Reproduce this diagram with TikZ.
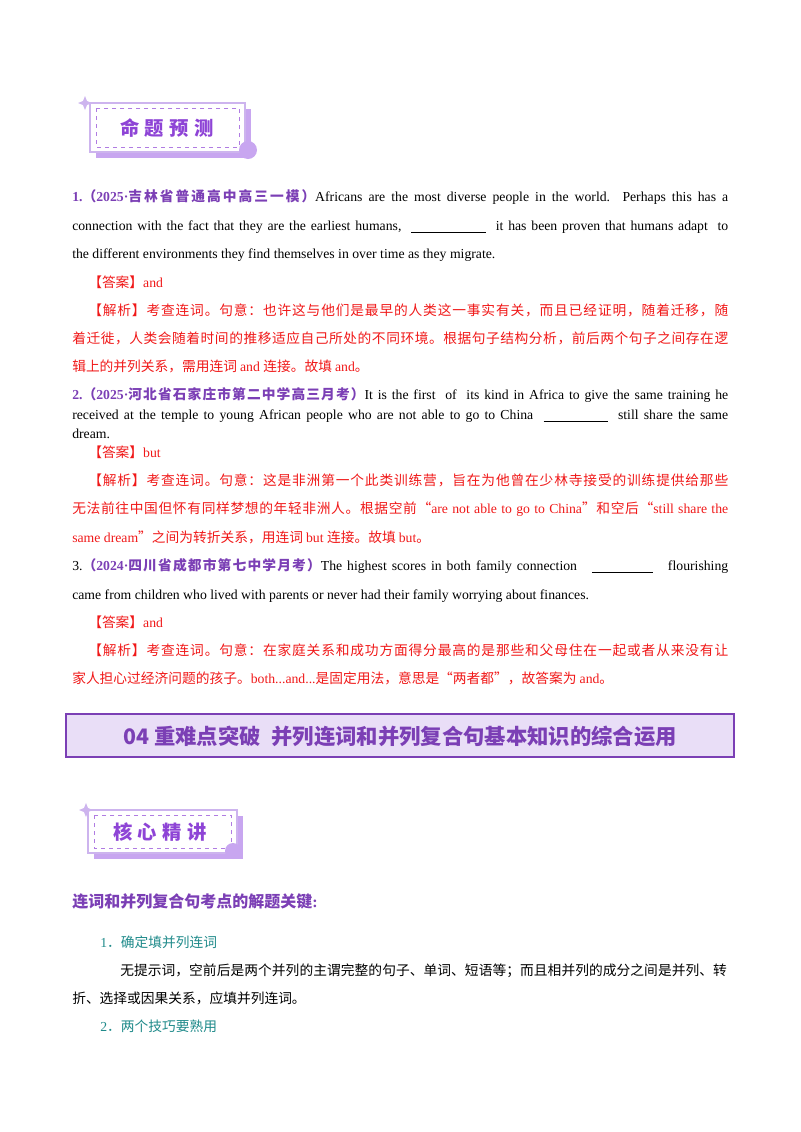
\documentclass[tikz,border=0pt]{standalone}
\usepackage{fontspec}
\setmainfont{Liberation Serif}
\newfontfamily\cjkfam{Noto Sans CJK SC}
\newcommand\cjkf{\cjkfam}
\newcommand\latf{\rmfamily}
\newcommand\cjkglue{\hskip0pt plus 1pt\relax}
\newXeTeXintercharclass\mycjk
\newcount\ccnt
\ccnt="4E00 \loop \XeTeXcharclass\ccnt=\mycjk \advance\ccnt 1 \ifnum\ccnt<"A000 \repeat
\ccnt="3000 \loop \XeTeXcharclass\ccnt=\mycjk \advance\ccnt 1 \ifnum\ccnt<"3040 \repeat
\ccnt="FF00 \loop \XeTeXcharclass\ccnt=\mycjk \advance\ccnt 1 \ifnum\ccnt<"FFF0 \repeat
\XeTeXcharclass"201C=\mycjk
\XeTeXcharclass"201D=\mycjk
\XeTeXinterchartokenstate=1
\XeTeXinterchartoks 0 \mycjk = {\cjkf}
\XeTeXinterchartoks 4095 \mycjk = {\cjkf}
\XeTeXinterchartoks \mycjk 0 = {\latf}
\XeTeXinterchartoks 4095 0 = {\latf}
\XeTeXinterchartoks \mycjk \mycjk = {\cjkglue}
\definecolor{ttl}{HTML}{7B3FB5}
\definecolor{ans}{HTML}{F01818}
\definecolor{teal2}{HTML}{1F8A8A}
\definecolor{band}{HTML}{E9DEF7}
\definecolor{bdg}{HTML}{8E44D6}
\definecolor{bdgl}{HTML}{CDB4EE}
\definecolor{bdgs}{HTML}{C8A6F0}
\newcommand\J[2]{\makebox[#1][s]{#2}}
\newcommand\blank[1]{\rule[-2pt]{#1}{0.6pt}}
\begin{document}
\begin{tikzpicture}[x=0.75pt,y=-0.75pt,
  ln/.style={anchor=base west,inner sep=0pt,font=\fontsize{10.3pt}{12pt}\selectfont},
  red/.style={ln,text=ans},
  badgetext/.style={text=bdg,font=\bfseries\fontsize{14.5pt}{16pt}\selectfont}]
\useasboundingbox (0,0) rectangle (800,1132);
% badge 1
\begin{scope}
\fill[bdgs] (96,109) rectangle (251,158);
\draw[bdgl,fill=white,line width=1pt] (90,103) rectangle (245,152);
\draw[bdg!70,dashed,line width=0.6pt] (96,108) rectangle (239,147);
\node[badgetext] (b1) at (167,128) {命\hspace{4pt}题\hspace{4pt}预\hspace{4pt}测};
\fill[bdgs] (248,150) circle (9);
\fill[bdgl] (85,96) -- (87,101) -- (92,103) -- (87,105) -- (85,110) -- (83,105) -- (78,103) -- (83,101) -- cycle;
\end{scope}
% Q1
\node[ln] (q1a) at (72,201) {\J{492pt}{{\color{ttl}\bfseries 1.（2025·吉林省普通高中高三一模）}Africans are the most diverse people in the world. Perhaps this has a}};
\node[ln] (q1b) at (72,230) {\J{492pt}{connection with the fact that they are the earliest humans, \ \blank{56pt} \ it has been proven that humans adapt \ to}};
\node[ln] (q1c) at (72,258) {the different environments they find themselves in over time as they migrate.};
\node[red] (a1) at (88,287) {【答案】and};
\node[red] (e1a) at (88,315) {\J{480pt}{【解析】考查连词。句意：也许这与他们是最早的人类这一事实有关，而且已经证明，随着迁移，随}};
\node[red] (e1b) at (72,343) {\J{492pt}{着迁徙，人类会随着时间的推移适应自己所处的不同环境。根据句子结构分析，前后两个句子之间存在逻}};
\node[red] (e1c) at (72,371) {辑上的并列关系，需用连词 and 连接。故填 and。};
% Q2
\node[ln] (q2a) at (72,399) {\J{492pt}{{\color{ttl}\bfseries 2.（2025·河北省石家庄市第二中学高三月考）}It is the first \ of \ its kind in Africa to give the same training he}};
\node[ln] (q2b) at (72,419) {\J{492pt}{received at the temple to young African people who are not able to go to China \ \blank{48pt} \ still share the same}};
\node[ln] (q2c) at (72,438) {dream.};
\node[red] (a2) at (88,457) {【答案】but};
\node[red] (e2a) at (88,485) {\J{480pt}{【解析】考查连词。句意：这是非洲第一个此类训练营，旨在为他曾在少林寺接受的训练提供给那些}};
\node[red] (e2b) at (72,513) {\J{492pt}{无法前往中国但怀有同样梦想的年轻非洲人。根据空前“are not able to go to China”和空后“still share the}};
\node[red] (e2c) at (72,542) {same dream”之间为转折关系，用连词 but 连接。故填 but。};
% Q3
\node[ln] (q3a) at (72,570) {\J{492pt}{3.{\color{ttl}\bfseries（2024·四川省成都市第七中学月考）}The highest scores in both family connection \ \ \blank{46pt} \ \ flourishing}};
\node[ln] (q3b) at (72,599) {came from children who lived with parents or never had their family worrying about finances.};
\node[red] (a3) at (88,627) {【答案】and};
\node[red] (e3a) at (88,655) {\J{480pt}{【解析】考查连词。句意：在家庭关系和成功方面得分最高的是那些和父母住在一起或者从来没有让}};
\node[red] (e3b) at (72,683) {家人担心过经济问题的孩子。both...and...是固定用法，意思是“两者都”，故答案为 and。};
% banner
\draw[ttl,fill=band,line width=1.6pt] (66,714) rectangle (734,757);
\node[text=ttl,font=\bfseries\fontsize{16pt}{18pt}\selectfont] (ban) at (400,736) {\let\latf\cjkf 04 重难点突破\hspace{8pt}并列连词和并列复合句基本知识的综合运用};
% badge 2
\begin{scope}
\fill[bdgs] (94,816) rectangle (243,859);
\draw[bdgl,fill=white,line width=1pt] (88,810) rectangle (237,853);
\draw[bdg!70,dashed,line width=0.6pt] (94,815) rectangle (231,848);
\node[badgetext] (b2) at (160,832) {核\hspace{4pt}心\hspace{4pt}精\hspace{4pt}讲};
\fill[bdgs] (233,851) circle (8);
\fill[bdgl] (86,803) -- (88,808) -- (93,810) -- (88,812) -- (86,817) -- (84,812) -- (79,810) -- (84,808) -- cycle;
\end{scope}
\node[ln,text=ttl,font=\bfseries\fontsize{12pt}{14pt}\selectfont] (k1) at (72,907) {连词和并列复合句考点的解题关键:};
\node[ln,text=teal2] (k2) at (100,947) {1．确定填并列连词};
\node[ln] (k3) at (120,975) {\J{455pt}{无提示词，空前后是两个并列的主谓完整的句子、单词、短语等；而且相并列的成分之间是并列、转}};
\node[ln] (k4) at (72,1003) {折、选择或因果关系，应填并列连词。};
\node[ln,text=teal2] (k5) at (100,1031) {2．两个技巧要熟用};
\end{tikzpicture}
\end{document}
